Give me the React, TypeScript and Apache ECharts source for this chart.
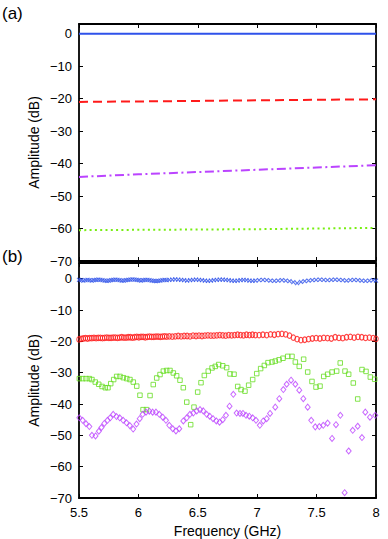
import React, { useEffect, useRef } from 'react';
import * as echarts from 'echarts';

// ---------- Panel (a): fitted lines ----------
const freqLine = [5.5, 6, 6.5, 7, 7.5, 8];
const lineBlue = [0, 0, 0, 0, 0, 0];
const lineRed = [-21.0, -20.85, -20.7, -20.5, -20.35, -20.2];
const linePurple = [-44.1, -43.3, -42.6, -41.9, -41.2, -40.5];
const lineGreen = [-60.5, -60.4, -60.3, -60.2, -60.0, -59.8];

// ---------- Panel (b): measured points ----------
const freqDense = [
  5.500, 5.518, 5.536, 5.554, 5.572, 5.590, 5.608, 5.626, 5.644, 5.662, 5.680, 5.698, 5.716, 5.734,
  5.752, 5.770, 5.788, 5.806, 5.824, 5.842, 5.860, 5.878, 5.896, 5.914, 5.932, 5.950, 5.968, 5.986,
  6.004, 6.022, 6.040, 6.058, 6.076, 6.094, 6.112, 6.130, 6.148, 6.166, 6.184, 6.202, 6.220, 6.238,
  6.260, 6.285, 6.310, 6.335, 6.360, 6.385, 6.410, 6.435, 6.460, 6.485, 6.510, 6.535, 6.560, 6.585,
  6.610, 6.635, 6.660, 6.685, 6.710, 6.735, 6.760, 6.785, 6.810, 6.835, 6.860, 6.885, 6.910, 6.935,
  6.960, 6.985,
  7.016, 7.048, 7.080, 7.112, 7.144, 7.176, 7.208, 7.240, 7.272, 7.304, 7.336, 7.368, 7.400, 7.432,
  7.464, 7.496, 7.528, 7.560, 7.592, 7.624, 7.656, 7.688, 7.720, 7.752, 7.784, 7.816, 7.848, 7.880,
  7.912, 7.944, 7.976, 8.000,
];
const blueAmp = [
  -0.4, -0.5, -0.6, -0.5, -0.4, -0.5, -0.6, -0.5, -0.4, -0.3, -0.4, -0.5, -0.6, -0.7, -0.6, -0.5,
  -0.4, -0.3, -0.4, -0.5, -0.6, -0.6, -0.5, -0.4, -0.3, -0.2, -0.3, -0.4, -0.5, -0.6, -0.5, -0.4,
  -0.4, -0.5, -0.6, -0.7, -0.8, -0.7, -0.6, -0.5, -0.4, -0.5,
  -0.4, -0.3, -0.2, -0.3, -0.4, -0.5, -0.6, -0.5, -0.4, -0.3, -0.4, -0.5, -0.6, -0.7, -0.6, -0.5,
  -0.4, -0.3, -0.3, -0.4, -0.5, -0.6, -0.7, -0.6, -0.5, -0.4, -0.5, -0.6, -0.7, -0.6,
  -0.5, -0.4, -0.5, -0.6, -0.7, -0.6, -0.5, -0.6, -0.8, -1.1, -1.4, -1.0, -0.8, -0.6, -0.5, -0.4,
  -0.3, -0.4, -0.5, -0.4, -0.3, -0.4, -0.5, -0.6, -0.5, -0.4, -0.5, -0.6, -0.7, -0.6, -0.5, -0.6,
];
const redAmp = [
  -19.4, -19.2, -19.1, -19.0, -19.1, -19.0, -19.0, -18.9, -19.0, -18.9, -18.9, -19.0, -18.9, -18.8,
  -18.9, -18.9, -18.8, -18.8, -18.9, -18.8, -18.7, -18.8, -18.8, -18.7, -18.7, -18.8, -18.7, -18.6,
  -18.7, -18.6, -18.6, -18.7, -18.6, -18.5, -18.6, -18.6, -18.5, -18.5, -18.6, -18.5, -18.4, -18.5,
  -18.4, -18.5, -18.4, -18.3, -18.4, -18.3, -18.3, -18.4, -18.2, -18.3, -18.2, -18.3, -18.2, -18.1,
  -18.2, -18.2, -18.1, -18.0, -18.1, -18.2, -18.0, -18.1, -18.0, -17.9, -18.0, -18.1, -17.9, -18.0,
  -17.9, -18.0,
  -18.0, -17.9, -18.0, -17.8, -17.9, -17.7, -17.6, -17.8, -18.2, -18.8, -19.3, -19.6, -19.5, -19.3,
  -19.1, -19.0, -19.1, -18.9, -19.0, -19.1, -18.7, -18.9, -19.0, -18.7, -18.6, -18.8, -18.6, -18.7,
  -18.9, -18.8, -19.0, -19.2,
];
const greenFreq = [
  5.503, 5.531, 5.559, 5.587, 5.609, 5.637, 5.666, 5.694, 5.721, 5.744, 5.767, 5.792, 5.817, 5.845,
  5.873, 5.902, 5.929, 5.957, 5.986, 6.013, 6.039, 6.068, 6.098, 6.125, 6.154, 6.182, 6.210, 6.238,
  6.266, 6.294, 6.322, 6.350, 6.378, 6.407, 6.440, 6.468, 6.499, 6.527, 6.555, 6.588, 6.620, 6.647,
  6.676, 6.710, 6.743, 6.771, 6.805, 6.836, 6.864, 6.897, 6.928, 6.962, 6.996, 7.029, 7.060, 7.091,
  7.125, 7.152, 7.184, 7.217, 7.257, 7.293, 7.321, 7.354, 7.391, 7.425, 7.461, 7.495, 7.529, 7.560,
  7.593, 7.630, 7.669, 7.699, 7.739, 7.770, 7.809, 7.846, 7.882, 7.916, 7.952, 7.989,
];
const greenAmp = [
  -31.9, -31.9, -31.9, -31.9, -32.2, -33.0, -33.7, -34.4, -34.8, -34.8, -33.5, -32.2, -31.2, -31.2,
  -31.6, -31.9, -32.2, -33.0, -34.3, -37.2, -41.8, -41.8, -37.3, -33.8, -31.7, -30.6, -29.5, -29.3,
  -29.3, -30.1, -31.0, -32.4, -34.8, -39.4, -46.6, -41.0, -36.2, -33.2, -30.9, -29.5, -28.5, -28.0,
  -27.4, -27.8, -28.4, -30.4, -30.5, -34.4, -35.4, -35.9, -34.0, -32.2, -30.3, -28.7, -27.7, -26.8,
  -26.6, -26.3, -25.9, -25.4, -24.8, -24.8, -26.6, -28.0, -25.7, -29.8, -32.8, -34.6, -34.3, -31.2,
  -30.5, -29.8, -29.5, -26.9, -29.5, -30.5, -33.3, -38.4, -29.0, -29.6, -31.4, -32.1,
];
const purpleFreq = [
  5.503, 5.531, 5.559, 5.587, 5.609, 5.639, 5.667, 5.689, 5.713, 5.740, 5.763, 5.788, 5.816, 5.843,
  5.872, 5.900, 5.928, 5.956, 5.984, 6.011, 6.036, 6.064, 6.092, 6.120, 6.148, 6.176, 6.205, 6.232,
  6.260, 6.289, 6.316, 6.344,
  6.378, 6.407, 6.434, 6.462, 6.491, 6.519, 6.546, 6.575, 6.600, 6.628, 6.656, 6.683, 6.710, 6.737,
  6.767, 6.799, 6.827, 6.855, 6.880, 6.906, 6.933, 6.962, 6.990, 7.022, 7.051, 7.080, 7.108,
  7.152, 7.186, 7.220, 7.248, 7.285, 7.321, 7.354, 7.388, 7.425, 7.455, 7.489, 7.523, 7.556, 7.593,
  7.630, 7.663, 7.700, 7.736, 7.770, 7.804, 7.846, 7.882, 7.910, 7.949, 7.994,
];
const purpleAmp = [
  -44.4, -45.2, -46.3, -47.2, -50.0, -50.2, -48.7, -47.5, -46.2, -45.2, -44.4, -43.3, -44.0, -44.4,
  -45.2, -46.0, -46.9, -48.0, -46.4, -44.7, -43.3, -42.6, -42.3, -42.6, -42.6, -43.3, -44.2, -45.2,
  -46.8, -47.9, -48.6, -47.9,
  -45.4, -44.4, -43.3, -42.9, -42.2, -41.8, -42.2, -43.3, -43.9, -44.7, -45.4, -45.8, -45.0, -43.6,
  -40.7, -36.9, -42.9, -43.0, -43.0, -43.6, -43.9, -44.4, -45.2, -46.8, -45.4, -44.7, -43.0,
  -41.0, -38.3, -35.4, -33.7, -32.4, -33.7, -35.6, -38.3, -41.0, -45.2, -47.3, -47.2, -46.8, -46.1,
  -51.0, -46.6, -43.6, -68.3, -55.0, -48.4, -47.1, -50.7, -42.6, -44.2, -43.6,
];

const yTicks = [-70, -60, -50, -40, -30, -20, -10, 0];
const xTickLabels = ['5.5', '6', '6.5', '7', '7.5', '8'];

const zip = (xs: number[], ys: number[]) => xs.map((x, i) => [x, ys[i]]);

const FONT = '"Liberation Sans", Arial, Helvetica, sans-serif';
const BLUE = '#2f52ea';
const RED = '#ff1a1a';
const GREEN = '#66dd22';
const GREEN_LINE = '#77ee11';
const PURPLE = '#bb44ff';

export default function App() {
  const ref = useRef<HTMLDivElement>(null);
  useEffect(() => {
    const chart = echarts.init(ref.current!, null, { renderer: 'svg' });

    const yFmt = (v: number) => (yTicks.includes(v) ? String(v).replace('-', '\u2212') : '');
    const xFmt = (v: number) => {
      const s = String(v);
      return xTickLabels.includes(s) ? s : '';
    };

    const xAx = (gi: number, pos: string, showLabel: boolean) => ({
      type: 'value',
      gridIndex: gi,
      position: pos,
      min: 5.5,
      max: 8,
      interval: 0.5,
      axisLine: { show: true, onZero: false, lineStyle: { color: '#000', width: 1.8 } },
      axisTick: { show: true, inside: true, length: 4, lineStyle: { color: '#000', width: 1 } },
      axisLabel: { show: showLabel, formatter: xFmt, color: '#000', fontSize: 13, fontFamily: FONT, margin: 8 },
      splitLine: { show: false },
    });
    const yAx = (gi: number, pos: string, max: number, showLabel: boolean) => ({
      type: 'value',
      gridIndex: gi,
      position: pos,
      min: -70,
      max,
      interval: 10,
      axisLine: { show: true, onZero: false, lineStyle: { color: '#000', width: 1.8 } },
      axisTick: { show: true, inside: true, length: 4, lineStyle: { color: '#000', width: 1 } },
      axisLabel: { show: showLabel, formatter: yFmt, color: '#000', fontSize: 13, fontFamily: FONT, margin: 7, showMaxLabel: false },
      splitLine: { show: false },
    });

    const lineSeries = (data: number[], color: string, type: any) => ({
      type: 'line',
      xAxisIndex: 0,
      yAxisIndex: 0,
      data: zip(freqLine, data),
      showSymbol: false,
      symbol: 'none',
      lineStyle: { color, width: 2, type },
      silent: true,
    });
    const scatterSeries = (data: number[][], color: string, symbol: string, size: any, bw = 1) => ({
      type: 'scatter',
      xAxisIndex: 2,
      yAxisIndex: 2,
      data,
      symbol,
      symbolSize: size,
      itemStyle: { color: 'rgba(0,0,0,0)', borderColor: color, borderWidth: bw },
      silent: true,
    });

    chart.setOption({
      animation: false,
      backgroundColor: '#fff',
      grid: [
        { left: 79, top: 24, width: 297, height: 237, containLabel: false },
        { left: 79, top: 263, width: 297, height: 235, containLabel: false },
      ],
      xAxis: [xAx(0, 'bottom', false), xAx(0, 'top', false), xAx(1, 'bottom', true), xAx(1, 'top', false)],
      yAxis: [yAx(0, 'left', 3, true), yAx(0, 'right', 3, false), yAx(1, 'left', 5, true), yAx(1, 'right', 5, false)],
      series: [
        lineSeries(lineBlue, BLUE, 'solid'),
        lineSeries(lineRed, RED, [9, 5]),
        lineSeries(linePurple, PURPLE, [9, 3.5, 2, 3.5]),
        lineSeries(lineGreen, GREEN_LINE, [2, 3.3]),
        scatterSeries(zip(freqDense, blueAmp), BLUE, 'path://M0 0L10 10M10 0L0 10', 4, 1.1),
        scatterSeries(zip(freqDense, redAmp), RED, 'circle', [4.5, 5.5], 1.1),
        scatterSeries(zip(greenFreq, greenAmp), GREEN, 'rect', 4.5),
        scatterSeries(zip(purpleFreq, purpleAmp), PURPLE, 'diamond', [5, 6]),
      ],
      graphic: [
        { type: 'text', left: 2, top: 5, style: { text: '(a)', font: `17px ${FONT}`, fill: '#000' } },
        { type: 'text', left: 2, top: 248, style: { text: '(b)', font: `17px ${FONT}`, fill: '#000' } },
        {
          type: 'text', x: 34, y: 142.5, rotation: Math.PI / 2,
          style: { text: 'Amplitude (dB)', font: `14px ${FONT}`, fill: '#000', align: 'center', verticalAlign: 'middle' },
        },
        {
          type: 'text', x: 34, y: 380.5, rotation: Math.PI / 2,
          style: { text: 'Amplitude (dB)', font: `14px ${FONT}`, fill: '#000', align: 'center', verticalAlign: 'middle' },
        },
        {
          type: 'text', x: 227.5, y: 531,
          style: { text: 'Frequency (GHz)', font: `14px ${FONT}`, fill: '#000', align: 'center', verticalAlign: 'middle' },
        },
      ],
    });
    return () => chart.dispose();
  }, []);

  return (
    <div
      ref={ref}
      style={{ position: 'fixed', left: 0, top: 0, width: 388, height: 539, background: '#fff' }}
    />
  );
}
